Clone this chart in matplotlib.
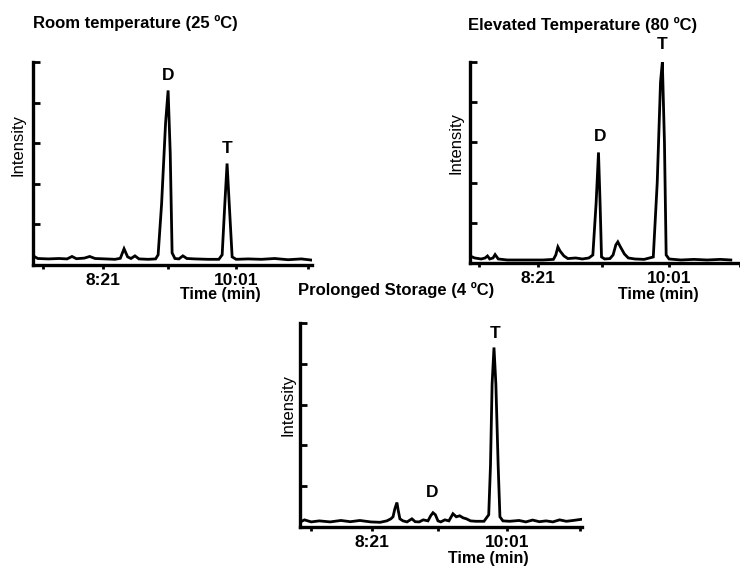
import matplotlib
matplotlib.use("Agg")
import matplotlib.pyplot as plt

plt.rcParams['font.family'] = ['Liberation Sans', 'DejaVu Sans']

# ---------------- data (time in seconds, intensity in % of axis height) -------------
titles = ["Room temperature (25 \u00baC)", "Elevated Temperature (80 \u00baC)",
          "Prolonged Storage (4 \u00baC)"]
tick_values = [501, 601]
tick_labels = ["8:21", "10:01"]
minor_ticks = [456, 550, 655]

t_room = [448.5, 452, 460, 468, 474, 477.7, 481, 487, 491, 495, 503, 510, 514, 516.8,
          519.5, 522, 525, 528, 535, 540.5, 542.4, 545, 548, 549.9, 551.5, 552.9, 555,
          558, 561, 564, 570, 580, 588, 590.5, 592.5, 594.2, 596, 598, 601, 610, 620,
          630, 640, 650, 658]
v_room = [4.5, 3.2, 3.0, 3.2, 3.0, 4.2, 3.1, 3.4, 4.2, 3.2, 3.0, 2.8, 3.3, 8.0,
          4.0, 3.2, 4.5, 3.0, 2.8, 3.0, 5, 30, 70, 86, 55, 6, 3.2,
          3.0, 4.5, 3.2, 3.0, 2.8, 2.8, 5, 30, 50, 28, 4, 2.8, 3.0, 2.8,
          3.2, 2.6, 3.0, 2.4]

t_hot = [449.5, 453, 458, 461, 462.8, 464.5, 467, 468.6, 471, 478, 490, 505, 513, 514.8,
         516.4, 518, 521, 524, 530, 535, 540, 543, 545.5, 547.3, 548.5, 549.6, 552, 556,
         558.4, 560.5, 562, 564, 567, 570, 575, 582, 589, 592, 594.5, 595.9, 597.5,
         598.8, 601, 610, 620, 630, 640, 648]
v_hot = [3.5, 2.5, 2.0, 2.5, 3.5, 2.0, 2.5, 4.2, 2.0, 1.5, 1.5, 1.5, 1.8, 4,
         8, 6, 3.5, 2.2, 2.5, 2.0, 2.5, 4, 30, 55, 30, 3, 2, 2.2,
         4, 9, 10.5, 8, 4.5, 2.5, 2.0, 1.8, 3, 40, 90, 100, 60,
         4, 2.0, 1.5, 1.8, 1.5, 1.8, 1.5]

t_cold = [448, 451, 456, 462, 470, 478, 485, 492, 500, 507, 512, 515, 516.6, 518, 519.5,
          520.5, 521.7, 524, 527, 530.6, 533, 536, 539, 542.5, 544.5, 546.2, 548, 549.9,
          552, 555, 558, 561, 563.5, 566, 568.5, 571, 574, 578, 584, 587.5, 588.8, 590,
          591.4, 592.8, 594.5, 595.8, 598, 603, 610, 615, 620, 625, 630, 635, 640, 645,
          650, 656.5]
v_cold = [2.5, 3.5, 2.5, 3.0, 2.5, 3.2, 2.6, 3.2, 2.5, 2.3, 3.0, 4.0, 5, 9, 12,
          8, 4, 3.0, 2.5, 4.0, 2.6, 2.5, 3.5, 3.0, 5.5, 7, 6, 3.0,
          2.5, 3.5, 3.0, 6.5, 5, 5.5, 4.5, 4.0, 3.0, 2.8, 2.8, 6, 30, 70,
          88, 70, 30, 5, 3.0, 2.8, 3.2, 2.5, 3.4, 2.6, 3.0, 2.5, 3.5, 2.8,
          3.2, 3.8]

# peak annotations (label, time, intensity)
peaks_room = [("D", 550, 93.5), ("T", 594.5, 57.5)]
peaks_hot = [("D", 548.8, 62.7), ("T", 596, 108.5)]
peaks_cold = [("D", 545.4, 16.7), ("T", 592, 95)]

# ---------------- layout -------------------------------------------------------------
W, H = 740, 566
fig = plt.figure(figsize=(W / 100, H / 100), dpi=100)

panels = [
    dict(box=(33, 62, 312, 265), xlim=(448.4, 658), tpos=(33, 23), tha="left",
         ypos=(18, 145), xpos=(220, 295), t=t_room, v=v_room, peaks=peaks_room),
    dict(box=(470, 62, 740, 263), xlim=(449.5, 648), tpos=(583, 25), tha="center",
         ypos=(456, 143), xpos=(658, 295), t=t_hot, v=v_hot, peaks=peaks_hot),
    dict(box=(300, 323, 582, 527), xlim=(447.7, 656.6), tpos=(396, 290), tha="center",
         ypos=(288, 405), xpos=(488, 558), t=t_cold, v=v_cold, peaks=peaks_cold),
]

for i, p in enumerate(panels):
    l, t, r, b = p["box"]
    ax = fig.add_axes([l / W, 1 - b / H, (r - l) / W, (b - t) / H])
    ax.plot(p["t"], p["v"], color="black", lw=2.0, solid_joinstyle="miter")
    ax.set_xlim(*p["xlim"])
    ax.set_ylim(0, 100)

    for s in ["top", "right"]:
        ax.spines[s].set_visible(False)
    for s in ["left", "bottom"]:
        ax.spines[s].set_linewidth(2.4)
        ax.spines[s].set_capstyle("projecting")

    ax.set_yticks([0, 20, 40, 60, 80, 100])
    ax.set_yticklabels([])
    ax.tick_params(axis="y", direction="in", length=5, width=2)
    ax.set_xticks(tick_values)
    ax.set_xticklabels(tick_labels, fontsize=12.5, fontweight="bold")
    ax.set_xticks(minor_ticks, minor=True)
    ax.tick_params(axis="x", which="both", direction="out", length=3, width=2, pad=3)

    def to_ax(x, y):
        return ((x - l) / (r - l), (b - y) / (b - t))

    ax.set_ylabel("Intensity", fontsize=12)
    ax.yaxis.set_label_coords(*to_ax(*p["ypos"]))
    ax.set_xlabel("Time (min)", fontsize=11.5, fontweight="bold")
    ax.xaxis.set_label_coords(*to_ax(*p["xpos"]))
    ax.xaxis.label.set_va("center")
    ax.yaxis.label.set_va("center")

    tx, ty = to_ax(*p["tpos"])
    ax.text(tx, ty, titles[i], transform=ax.transAxes, ha=p["tha"], va="center",
            fontsize=12, fontweight="bold", clip_on=False)

    for lab, px_, py_ in p["peaks"]:
        ax.text(px_, py_, lab, ha="center", va="center", fontsize=12.5,
                fontweight="bold", clip_on=False)

fig.savefig("out.png", dpi=100)
